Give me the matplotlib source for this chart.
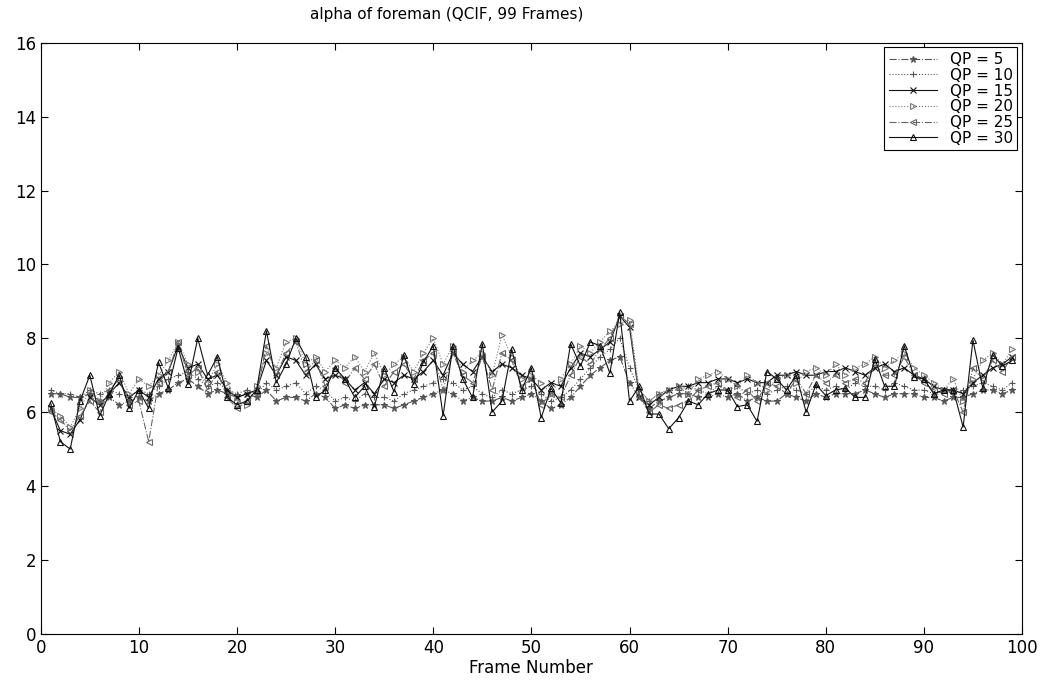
import matplotlib
matplotlib.use("Agg")
import matplotlib.pyplot as plt
import numpy as np

frames = np.arange(1, 100)

qp5 = [6.5, 6.5, 6.4, 6.4, 6.5, 6.3, 6.4, 6.2, 6.3, 6.4,
       6.3, 6.5, 6.6, 6.8, 6.9, 6.7, 6.5, 6.6, 6.5, 6.4,
       6.5, 6.4, 6.6, 6.3, 6.4, 6.4, 6.3, 6.5, 6.4, 6.1,
       6.2, 6.1, 6.2, 6.2, 6.2, 6.1, 6.2, 6.3, 6.4, 6.5,
       6.6, 6.5, 6.3, 6.4, 6.3, 6.3, 6.4, 6.3, 6.4, 6.5,
       6.3, 6.1, 6.2, 6.4, 6.7, 7.0, 7.2, 7.4, 7.5, 6.8,
       6.4, 6.1, 6.3, 6.4, 6.5, 6.5, 6.4, 6.4, 6.5, 6.4,
       6.5, 6.3, 6.4, 6.3, 6.3, 6.5, 6.4, 6.3, 6.5, 6.4,
       6.5, 6.5, 6.5, 6.6, 6.5, 6.4, 6.5, 6.5, 6.5, 6.4,
       6.4, 6.3, 6.4, 6.4, 6.5, 6.6, 6.6, 6.5, 6.6]
qp10 = [6.6, 6.5, 6.5, 6.4, 6.6, 6.5, 6.6, 6.5, 6.4, 6.6,
        6.5, 6.7, 6.9, 7.0, 7.1, 6.9, 6.7, 6.8, 6.6, 6.5,
        6.6, 6.5, 6.8, 6.6, 6.7, 6.8, 6.5, 6.7, 6.6, 6.3,
        6.4, 6.3, 6.5, 6.4, 6.4, 6.3, 6.5, 6.6, 6.7, 6.8,
        6.9, 6.8, 6.6, 6.7, 6.5, 6.4, 6.6, 6.5, 6.6, 6.7,
        6.5, 6.3, 6.4, 6.6, 6.9, 7.2, 7.5, 7.7, 8.0, 7.2,
        6.6, 6.3, 6.5, 6.6, 6.6, 6.7, 6.6, 6.5, 6.7, 6.6,
        6.7, 6.5, 6.6, 6.5, 6.6, 6.7, 6.6, 6.5, 6.7, 6.6,
        6.7, 6.6, 6.8, 6.7, 6.7, 6.6, 6.8, 6.7, 6.6, 6.6,
        6.5, 6.6, 6.5, 6.6, 6.7, 6.8, 6.7, 6.6, 6.8]
qp15 = [6.1, 5.5, 5.4, 5.8, 6.4, 6.2, 6.5, 6.8, 6.4, 6.6,
        6.4, 6.9, 7.1, 7.8, 7.2, 7.3, 6.9, 7.0, 6.6, 6.4,
        6.5, 6.6, 7.4, 7.0, 7.5, 7.4, 7.0, 7.3, 6.9, 7.0,
        6.9, 6.6, 6.8, 6.5, 6.9, 6.8, 7.0, 6.9, 7.1, 7.4,
        7.0, 7.6, 7.3, 7.1, 7.5, 7.1, 7.3, 7.2, 7.0, 6.9,
        6.6, 6.8, 6.7, 7.2, 7.6, 7.5, 7.7, 7.9, 8.6, 8.3,
        6.4, 6.2, 6.4, 6.6, 6.7, 6.7, 6.8, 6.8, 6.9, 6.9,
        6.8, 6.9, 6.8, 6.8, 7.0, 7.0, 7.1, 7.0, 7.0, 7.1,
        7.1, 7.2, 7.1, 7.0, 7.2, 7.3, 7.1, 7.2, 7.0, 6.9,
        6.7, 6.6, 6.6, 6.5, 6.8, 7.0, 7.2, 7.3, 7.5]
qp20 = [6.1, 5.9, 5.6, 6.1, 6.6, 6.3, 6.8, 7.1, 6.5, 6.9,
        6.7, 7.0, 7.4, 7.9, 7.3, 7.1, 6.8, 7.3, 6.8, 6.3,
        6.2, 6.7, 7.6, 7.2, 7.9, 8.0, 7.3, 7.5, 7.1, 7.4,
        7.2, 7.5, 7.1, 7.6, 7.0, 7.3, 7.5, 7.1, 7.6, 8.0,
        7.3, 7.8, 7.1, 7.4, 7.6, 7.0, 8.1, 7.5, 6.9, 7.0,
        6.8, 6.5, 6.9, 7.3, 7.8, 7.6, 7.9, 8.2, 8.4, 8.5,
        6.6, 6.3, 6.5, 6.6, 6.7, 6.5, 6.9, 7.0, 7.1, 6.9,
        6.7, 7.0, 6.8, 6.6, 6.9, 7.0, 6.8, 7.1, 7.2, 7.0,
        7.3, 7.0, 7.2, 7.3, 7.5, 7.2, 7.4, 7.6, 7.2, 7.0,
        6.8, 6.6, 6.9, 6.3, 6.9, 7.4, 7.6, 7.3, 7.7]
qp25 = [6.0, 5.8, 5.5, 5.9, 6.3, 6.0, 6.6, 6.9, 6.2, 6.3,
        5.2, 6.8, 7.1, 7.9, 7.0, 7.2, 6.6, 7.1, 6.4, 6.1,
        6.3, 6.5, 7.8, 7.0, 7.6, 7.9, 7.1, 7.4, 6.7, 7.2,
        6.8, 7.2, 6.9, 7.3, 6.7, 7.1, 7.3, 6.9, 7.4, 7.6,
        6.6, 7.6, 7.0, 6.8, 7.5, 6.6, 7.6, 7.4, 6.7, 6.9,
        6.2, 6.5, 6.4, 7.0, 7.5, 7.3, 7.7, 8.0, 8.6, 8.4,
        6.4, 6.0, 6.2, 6.1, 6.2, 6.3, 6.6, 6.7, 6.8, 6.6,
        6.4, 6.6, 6.3, 6.8, 6.7, 6.5, 6.9, 6.5, 7.0, 6.8,
        7.0, 6.8, 6.9, 6.8, 7.3, 7.0, 7.0, 7.5, 7.0, 6.8,
        6.6, 6.5, 6.6, 6.0, 7.2, 6.9, 7.4, 7.1, 7.5]
qp30 = [6.25, 5.2, 5.0, 6.3, 7.0, 5.9, 6.5, 7.0, 6.1, 6.6,
        6.1, 7.35, 6.65, 7.75, 6.75, 8.0, 7.0, 7.5, 6.4, 6.2,
        6.3, 6.6, 8.2, 6.8, 7.3, 8.0, 7.5, 6.4, 6.6, 7.2,
        6.9, 6.4, 6.7, 6.15, 7.2, 6.55, 7.55, 6.75, 7.35, 7.8,
        5.9, 7.8, 6.9, 6.4, 7.85, 6.0, 6.3, 7.7, 6.6, 7.2,
        5.85, 6.65, 6.25, 7.85, 7.25, 7.9, 7.8, 7.05, 8.7, 6.3,
        6.7, 5.95, 5.95, 5.55, 5.85, 6.3, 6.2, 6.5, 6.6, 6.6,
        6.15, 6.2, 5.75, 7.1, 6.9, 6.6, 7.0, 6.0, 6.75, 6.45,
        6.6, 6.65, 6.4, 6.4, 7.45, 6.7, 6.7, 7.8, 6.95, 6.9,
        6.5, 6.6, 6.6, 5.6, 7.95, 6.65, 7.55, 7.25, 7.4]

labels = ["QP = 5", "QP = 10", "QP = 15", "QP = 20", "QP = 25", "QP = 30"]
series = [qp5, qp10, qp15, qp20, qp25, qp30]
styles = [
    dict(ls="-.", marker="*", color="#555555"),
    dict(ls=":", marker="+", color="#555555"),
    dict(ls="-", marker="x", color="#111111"),
    dict(ls=":", marker=">", color="#777777", mfc="none"),
    dict(ls="-.", marker="<", color="#666666", mfc="none"),
    dict(ls="-", marker="^", color="#111111", mfc="none"),
]

plt.rcParams["font.family"] = ["DejaVu Sans"]

fig = plt.figure(figsize=(10.45, 6.8), dpi=100)
ax = fig.add_axes([0.039, 0.068, 0.939, 0.869])

for vals, lab, st in zip(series, labels, styles):
    ax.plot(frames, vals, label=lab, lw=0.8, ms=4.5, mew=0.8, **st)

ax.set_xlim(0, 100)
ax.set_ylim(0, 16)
ax.set_xticks(np.arange(0, 101, 10))
ax.set_yticks(np.arange(0, 17, 2))
ax.tick_params(direction="in", top=True, right=True, labelsize=12, length=5)
for s in ax.spines.values():
    s.set_linewidth(0.8)

fig.text(0.427, 0.978, "alpha of foreman (QCIF, 99 Frames)", fontsize=11,
         ha="center", va="center")
ax.set_xlabel("Frame Number", fontsize=12, labelpad=2)

leg = ax.legend(loc="upper right", fontsize=11, fancybox=False, edgecolor="black",
                framealpha=1, handlelength=3.2, borderpad=0.3, labelspacing=0.05,
                borderaxespad=0.3, handletextpad=0.8)
leg.get_frame().set_linewidth(0.8)

fig.savefig("out.png", dpi=100)
